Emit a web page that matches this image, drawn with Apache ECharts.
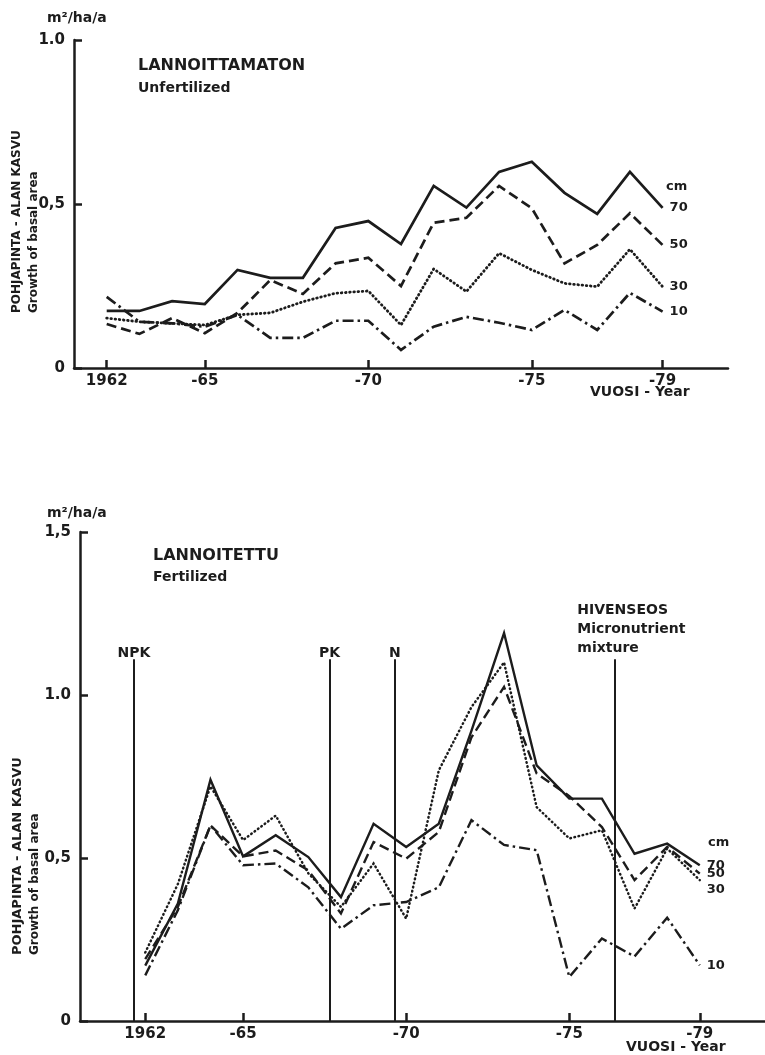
<!DOCTYPE html>
<html>
<head>
<meta charset="utf-8">
<script src="https://cdn.jsdelivr.net/npm/echarts@6/dist/echarts.min.js"></script>
<style>
  html, body { margin: 0; padding: 0; background: #fff; }
  #chart { width: 765px; height: 1055px; }
</style>
</head>
<body>
<div id="chart"></div>
<script>
// Years of measurement
const years = [1962, 1963, 1964, 1965, 1966, 1967, 1968, 1969, 1970,
               1971, 1972, 1973, 1974, 1975, 1976, 1977, 1978, 1979];

// Basal area growth, m2/ha/a, by diameter class (cm) — unfertilized stand
const unfert70 = [0.174, 0.174, 0.204, 0.195, 0.299, 0.275, 0.275, 0.427, 0.448, 0.378, 0.555, 0.489, 0.598, 0.629, 0.534, 0.470, 0.598, 0.488];
const unfert50 = [0.134, 0.104, 0.152, 0.106, 0.168, 0.268, 0.226, 0.319, 0.336, 0.250, 0.443, 0.458, 0.555, 0.487, 0.319, 0.375, 0.472, 0.375];
const unfert30 = [0.152, 0.141, 0.136, 0.131, 0.162, 0.168, 0.202, 0.228, 0.235, 0.131, 0.302, 0.233, 0.350, 0.299, 0.258, 0.248, 0.362, 0.248];
const unfert10 = [0.217, 0.141, 0.136, 0.126, 0.162, 0.092, 0.092, 0.144, 0.144, 0.055, 0.126, 0.156, 0.138, 0.116, 0.177, 0.116, 0.229, 0.172];

// Basal area growth, m2/ha/a, by diameter class (cm) — fertilized stand
const fert70 = [0.17, 0.36, 0.74, 0.505, 0.57, 0.503, 0.38, 0.605, 0.534, 0.605, 0.89, 1.19, 0.784, 0.682, 0.682, 0.513, 0.544, 0.478];
const fert50 = [0.19, 0.35, 0.60, 0.505, 0.523, 0.462, 0.33, 0.549, 0.498, 0.58, 0.87, 1.025, 0.759, 0.69, 0.595, 0.432, 0.534, 0.452];
const fert30 = [0.21, 0.42, 0.72, 0.555, 0.63, 0.453, 0.35, 0.483, 0.314, 0.769, 0.963, 1.10, 0.656, 0.56, 0.585, 0.345, 0.529, 0.432];
const fert10 = [0.14, 0.34, 0.60, 0.478, 0.483, 0.41, 0.283, 0.355, 0.365, 0.41, 0.616, 0.54, 0.524, 0.135, 0.253, 0.198, 0.317, 0.171];

// Diameter classes (cm)
const classNames = ['70', '50', '30', '10'];

// Year axis ticks and labels
const yearTicks = [1962, 1965, 1970, 1975, 1979];
const yearTickText = ['1962', '-65', '-70', '-75', '-79'];

// Growth axis tick labels
const growthTickText = { 0: '0', 0.5: '0,5', 1: '1.0', 1.5: '1,5' };

// Fertilization treatments (year, label) with marker line height
const treatYears = [1961.65, 1967.65, 1969.65, 1976.38];
const treatNames = ['NPK', 'PK', 'N', 'HIVENSEOS\nMicronutrient\nmixture'];
const treatTop = 1.11;

const INK = '#1c1c1c';
const FONT = '"DejaVu Sans", "Liberation Sans", sans-serif';

// Line dash pattern per diameter class
const dashStyles = {
  '70': { type: 'solid' },
  '50': { type: [10, 5] },
  '30': { type: [0.6, 3.6], cap: 'round' },
  '10': { type: [11, 4, 2.5, 4] }
};

function pairs(vals) { return years.map((y, i) => [y, vals[i]]); }

const chart = echarts.init(document.getElementById('chart'), null, { renderer: 'canvas' });

function makeXAxis(gridIndex, min, max) {
  return {
    type: 'value', gridIndex, min, max,
    splitLine: { show: false },
    axisLine: { show: true, onZero: false, lineStyle: { color: INK, width: 2.5 } },
    axisTick: { show: true, inside: true, length: 8, customValues: yearTicks, lineStyle: { color: INK, width: 2.5 } },
    axisLabel: {
      show: true, customValues: yearTicks, margin: 6,
      color: INK, fontFamily: FONT, fontWeight: 'bold', fontSize: 15,
      formatter: v => yearTickText[yearTicks.indexOf(v)] || ''
    }
  };
}

function makeYAxis(gridIndex, max) {
  return {
    type: 'value', gridIndex, min: 0, max, interval: 0.5,
    splitLine: { show: false },
    axisLine: { show: true, onZero: false, lineStyle: { color: INK, width: 2.5 } },
    axisTick: { show: true, inside: true, length: 8, lineStyle: { color: INK, width: 2.5 } },
    axisLabel: {
      margin: 9, color: INK, fontFamily: FONT, fontWeight: 'bold', fontSize: 15,
      formatter: v => growthTickText[v] !== undefined ? growthTickText[v] : ''
    }
  };
}

function makeSeries(idx, vals, name, width, endOffset) {
  return {
    type: 'line', name, xAxisIndex: idx, yAxisIndex: idx,
    data: pairs(vals), symbol: 'none', silent: true,
    lineStyle: Object.assign({ color: INK, width, join: 'miter' }, dashStyles[name]),
    endLabel: {
      show: true, formatter: name, distance: 7, offset: endOffset || [0, 0],
      color: INK, fontFamily: FONT, fontWeight: 'bold', fontSize: 13
    }
  };
}

const series = [
  makeSeries(0, unfert70, classNames[0], 2.7),
  makeSeries(0, unfert50, classNames[1], 2.7),
  makeSeries(0, unfert30, classNames[2], 2.8),
  makeSeries(0, unfert10, classNames[3], 2.7),
  makeSeries(1, fert70, classNames[0], 2.4),
  makeSeries(1, fert50, classNames[1], 2.4),
  makeSeries(1, fert30, classNames[2], 2.5, [0, 9]),
  makeSeries(1, fert10, classNames[3], 2.4)
];

// Treatment marker lines in the fertilized panel
series[4].markLine = {
  silent: true, symbol: 'none', animation: false,
  label: { show: false },
  lineStyle: { color: INK, width: 2, type: 'solid' },
  data: treatYears.map(y => [{ coord: [y, 0] }, { coord: [y, treatTop] }])
};

const txt = (x, y, text, size) => ({
  type: 'text', x, y, silent: true,
  style: { text, fill: INK, font: `bold ${size}px ${FONT}`, textAlign: 'left', textVerticalAlign: 'middle' }
});

const rot = (x, y, text, size) => ({
  type: 'text', x, y, rotation: Math.PI / 2, silent: true,
  style: { text, fill: INK, font: `bold ${size}px ${FONT}`, textAlign: 'left', textVerticalAlign: 'middle' }
});

const staticGraphics = [
  // unfertilized panel
  txt(47, 18, 'm²/ha/a', 14),
  txt(138, 66, 'LANNOITTAMATON', 16),
  txt(138, 88, 'Unfertilized', 14),
  txt(666, 187, 'cm', 13),
  txt(590, 392, 'VUOSI - Year', 14),
  rot(17, 313, 'POHJAPINTA - ALAN KASVU', 12),
  rot(34, 313, 'Growth of basal area', 12),
  // fertilized panel
  txt(47, 513, 'm²/ha/a', 14),
  txt(153, 556, 'LANNOITETTU', 16),
  txt(153, 577, 'Fertilized', 14),
  txt(708, 843, 'cm', 13),
  txt(626, 1047, 'VUOSI - Year', 14),
  rot(18, 955, 'POHJAPINTA - ALAN KASVU', 13),
  rot(35, 955, 'Growth of basal area', 12)
];

chart.setOption({
  animation: false,
  backgroundColor: '#ffffff',
  grid: [
    { left: 74, top: 40, width: 654, height: 328 },
    { left: 80, top: 532, width: 687.5, height: 489 }
  ],
  xAxis: [makeXAxis(0, 1961, 1981), makeXAxis(1, 1960, 1981)],
  yAxis: [makeYAxis(0, 1.0), makeYAxis(1, 1.5)],
  series,
  graphic: staticGraphics
});

// Treatment labels placed at the top of each marker line
const treatGraphics = treatYears.map((y, i) => {
  const p = chart.convertToPixel({ xAxisIndex: 1, yAxisIndex: 1 }, [y, treatTop]);
  const multi = treatNames[i].indexOf('\n') >= 0;
  return {
    type: 'text', x: multi ? p[0] - 37 : p[0], y: multi ? p[1] - 1 : p[1] + 4, silent: true,
    style: {
      text: treatNames[i], fill: INK, font: `bold 14px ${FONT}`,
      textAlign: multi ? 'left' : 'center', textVerticalAlign: 'bottom', lineHeight: 19
    }
  };
});

chart.setOption({ graphic: staticGraphics.concat(treatGraphics) });
</script>
</body>
</html>
